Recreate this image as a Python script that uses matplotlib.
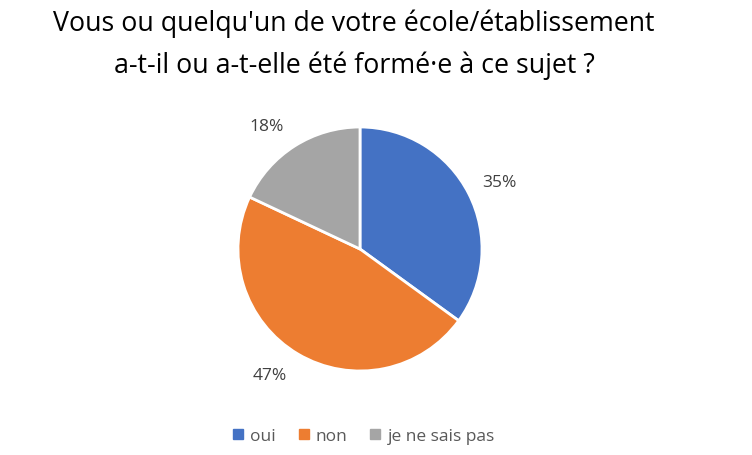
import matplotlib
matplotlib.use("Agg")
import numpy as np
import matplotlib.pyplot as plt
from matplotlib.lines import Line2D

categories = ["oui", "non", "je ne sais pas"]
values = [35, 47, 18]
colors = ["#4472C4", "#ED7D31", "#A5A5A5"]
title = "Vous ou quelqu'un de votre école/établissement\na-t-il ou a-t-elle été formé·e à ce sujet ?"

# label placement style (angle nudge in degrees, radius)
label_nudge = [-1.3, -5.2, 4.8]
label_radius = 1.27

plt.rcParams['font.family'] = ['Open Sans', 'DejaVu Sans']

W, H = 752, 456
fig = plt.figure(figsize=(W/100, H/100), dpi=100)
cx, cy, r = 360, 250, 122
ax = fig.add_axes([(cx - r)/W, (H - cy - r)/H, 2*r/W, 2*r/H])
wedges, texts, autotexts = ax.pie(
    values, colors=colors, startangle=90, counterclock=False,
    autopct=lambda p: f"{p:.0f}%", pctdistance=label_radius,
    wedgeprops=dict(edgecolor="white", linewidth=2),
    textprops=dict(color="#404040", fontsize=12.5))
for w, t, dn in zip(wedges, autotexts, label_nudge):
    ang = np.deg2rad((w.theta1 + w.theta2) / 2 + dn)
    t.set_position((label_radius * np.cos(ang), label_radius * np.sin(ang)))
ax.set_aspect('equal')
ax.set_xlim(-1, 1); ax.set_ylim(-1, 1)

fig.text(354/W, 1 - 45/H, title, ha="center", va="center", fontsize=19.3,
         color="black", linespacing=1.62)

handles = [Line2D([0], [0], marker='s', linestyle='none', markersize=7,
                  markerfacecolor=c, markeredgecolor=c) for c in colors]
fig.legend(handles, categories, loc="center", bbox_to_anchor=(362/W, 1 - 437/H),
           ncol=3, frameon=False, fontsize=12.5, labelcolor="#595959",
           handletextpad=0.2, columnspacing=1.1, handlelength=1.0)

fig.savefig("out.png", dpi=100, facecolor="white")
